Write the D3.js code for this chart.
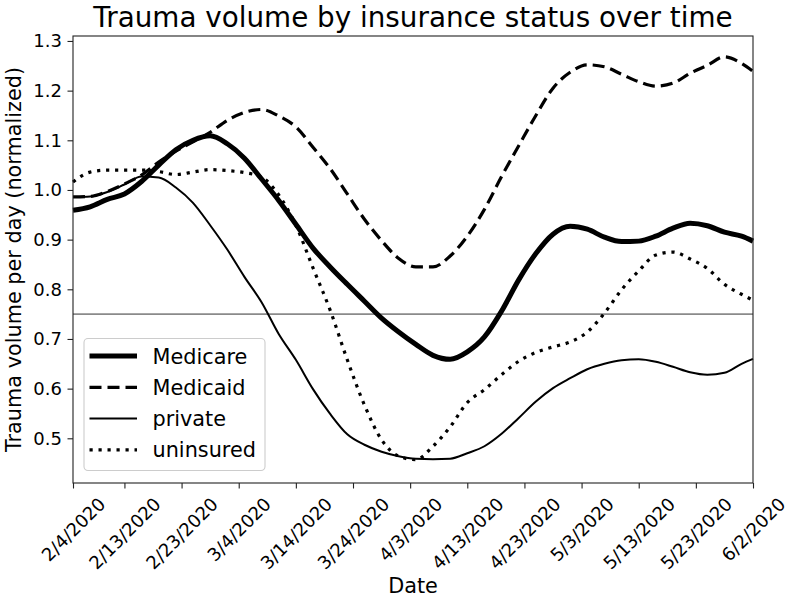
<!DOCTYPE html>
<html>
<head>
<meta charset="utf-8">
<script src="https://cdn.jsdelivr.net/npm/d3@7"></script>
<style>
  html, body { margin: 0; padding: 0; background: #fff; }
  svg { display: block; font-family: "DejaVu Sans", sans-serif; }
</style>
</head>
<body>
<svg id="chart" width="788" height="598"></svg>
<script>
// ---- data (every 3 days) ----
const dates = [
  "2020-02-04","2020-02-07","2020-02-10","2020-02-13","2020-02-16","2020-02-19","2020-02-22","2020-02-25","2020-02-28",
  "2020-03-02","2020-03-05","2020-03-08","2020-03-11","2020-03-14","2020-03-17","2020-03-20","2020-03-23","2020-03-26","2020-03-29",
  "2020-04-01","2020-04-04","2020-04-07","2020-04-10","2020-04-13","2020-04-16","2020-04-19","2020-04-22","2020-04-25","2020-04-28",
  "2020-05-01","2020-05-04","2020-05-07","2020-05-10","2020-05-13","2020-05-16","2020-05-19","2020-05-22","2020-05-25","2020-05-28","2020-05-31",
  "2020-06-02"
];
const medicare = [
  0.959,0.966,0.981,0.992,1.017,1.050,1.081,1.100,1.109,
  1.093,1.064,1.022,0.979,0.931,0.883,0.845,0.810,0.776,0.742,
  0.714,0.689,0.667,0.659,0.674,0.704,0.756,0.819,0.872,0.911,
  0.927,0.921,0.905,0.896,0.897,0.907,0.923,0.933,0.928,0.915,0.907,
  0.897
];
const medicaid = [
  0.986,0.987,0.997,1.012,1.030,1.056,1.078,1.097,1.116,
  1.140,1.156,1.162,1.149,1.127,1.086,1.043,0.992,0.941,0.898,
  0.862,0.845,0.845,0.867,0.907,0.961,1.027,1.089,1.150,1.205,
  1.237,1.252,1.248,1.233,1.218,1.209,1.215,1.235,1.251,1.268,1.255,
  1.239
];
const privateIns = [
  0.986,0.987,0.996,1.011,1.027,1.025,1.005,0.974,0.929,
  0.880,0.825,0.774,0.710,0.658,0.599,0.549,0.508,0.487,0.473,
  0.464,0.459,0.458,0.459,0.470,0.484,0.509,0.541,0.574,0.601,
  0.621,0.639,0.650,0.657,0.659,0.654,0.644,0.633,0.628,0.632,0.650,
  0.660
];
const uninsured = [
  1.016,1.036,1.040,1.040,1.040,1.037,1.031,1.036,1.041,
  1.039,1.035,1.026,0.990,0.929,0.843,0.758,0.658,0.567,0.497,
  0.464,0.457,0.484,0.523,0.572,0.598,0.628,0.655,0.673,0.684,
  0.694,0.714,0.752,0.799,0.837,0.869,0.875,0.861,0.842,0.810,0.790,
  0.778
];
const seriesNames = ["Medicare","Medicaid","private","uninsured"];
const seriesValues = [medicare, medicaid, privateIns, uninsured];
const xTickLabels = ["2/4/2020","2/13/2020","2/23/2020","3/4/2020","3/14/2020","3/24/2020","4/3/2020",
  "4/13/2020","4/23/2020","5/3/2020","5/13/2020","5/23/2020","6/2/2020"];
const yTicks = [0.5,0.6,0.7,0.8,0.9,1.0,1.1,1.2,1.3];
const refValue = 0.75;
const titleText = "Trauma volume by insurance status over time";
const xLabelText = "Date";
const yLabelText = "Trauma volume per day (normalized)";

// ---- styles ----
const styles = [
  {w: 5,   dash: null},
  {w: 3.2, dash: "12,6"},
  {w: 2,   dash: null},
  {w: 3.2, dash: "3.2,5.8"}
];

// ---- layout ----
const L = 73, R = 753, T = 36, B = 483;
const svg = d3.select("#chart");
const parse = d3.timeParse("%Y-%m-%d");
const parseTick = d3.timeParse("%m/%d/%Y");
const xDates = dates.map(parse);

const x = d3.scaleTime().domain([parseTick("2/4/2020"), parseTick("6/2/2020")]).range([L, R]);
const y = d3.scaleLinear().domain([0.41, 1.31]).range([B, T]);

// title
svg.append("text").attr("x", (L + R) / 2).attr("y", 27)
  .attr("text-anchor", "middle").attr("font-size", 27.8).attr("fill", "#000")
  .text(titleText);

// reference line
svg.append("line").attr("x1", L).attr("x2", R).attr("y1", y(refValue)).attr("y2", y(refValue))
  .attr("stroke", "#8a8a8a").attr("stroke-width", 1.6);

// series
const line = d3.line().x((d, i) => x(xDates[i])).y(d => y(d)).curve(d3.curveMonotoneX);
seriesValues.forEach((vals, k) => {
  const p = svg.append("path").datum(vals).attr("d", line)
    .attr("fill", "none").attr("stroke", "#000")
    .attr("stroke-width", styles[k].w).attr("stroke-linejoin", "round");
  if (styles[k].dash) p.attr("stroke-dasharray", styles[k].dash).attr("stroke-linecap", "butt");
});

// axes frame
svg.append("rect").attr("x", L).attr("y", T).attr("width", R - L).attr("height", B - T)
  .attr("fill", "none").attr("stroke", "#222").attr("stroke-width", 1.1);

// y axis
const yAxis = d3.axisLeft(y).tickValues(yTicks).tickFormat(d3.format(".1f")).tickSize(5.5).tickPadding(5.5);
const gy = svg.append("g").attr("transform", `translate(${L},0)`).call(yAxis);
gy.select(".domain").remove();
gy.selectAll(".tick line").attr("stroke", "#222").attr("stroke-width", 1.1);
gy.selectAll(".tick text").attr("font-size", 18).attr("fill", "#000")
  .attr("font-family", "DejaVu Sans");

// x axis
const xTicks = xTickLabels.map(parseTick);
const xAxis = d3.axisBottom(x).tickValues(xTicks).tickFormat((d, i) => xTickLabels[i]).tickSize(5.5);
const gx = svg.append("g").attr("transform", `translate(0,${B})`).call(xAxis);
gx.select(".domain").remove();
gx.selectAll(".tick line").attr("stroke", "#222").attr("stroke-width", 1.1);
const fs = 18;
gx.selectAll(".tick text").each(function() {
  const t = d3.select(this);
  t.attr("font-size", fs).attr("fill", "#000").attr("font-family", "DejaVu Sans")
   .attr("text-anchor", "middle").attr("dy", null).attr("y", 0).attr("x", 0);
  const w = this.getComputedTextLength();
  const h = 1.164 * fs;
  const box = (w + h) * Math.SQRT1_2;
  const cy = 5.5 + 5 + box / 2;
  t.attr("dy", (0.346 * fs) + "px")
   .attr("transform", `translate(0,${cy}) rotate(-45)`);
});

// axis labels
svg.append("text").attr("x", (L + R) / 2).attr("y", 593).attr("text-anchor", "middle")
  .attr("font-size", 20.8).attr("fill", "#000").text(xLabelText);
svg.append("text").attr("transform", `translate(20.5,${(T + B) / 2}) rotate(-90)`)
  .attr("text-anchor", "middle").attr("font-size", 20.8).attr("fill", "#000").text(yLabelText);

// legend
const lg = svg.append("g");
lg.append("rect").attr("x", 84).attr("y", 338.5).attr("width", 181).attr("height", 132)
  .attr("rx", 4).attr("fill", "#fff").attr("fill-opacity", 0.8)
  .attr("stroke", "#cccccc").attr("stroke-width", 1.1);
const rowY = [356, 387.3, 418.6, 449.9];
seriesNames.forEach((name, k) => {
  const ln = lg.append("line").attr("x1", 89.5).attr("x2", 137).attr("y1", rowY[k]).attr("y2", rowY[k])
    .attr("stroke", "#000").attr("stroke-width", styles[k].w);
  if (styles[k].dash) ln.attr("stroke-dasharray", styles[k].dash);
  lg.append("text").attr("x", 152.5).attr("y", rowY[k] + 7.5).attr("font-size", 20.8)
    .attr("fill", "#000").text(name);
});
</script>
</body>
</html>
